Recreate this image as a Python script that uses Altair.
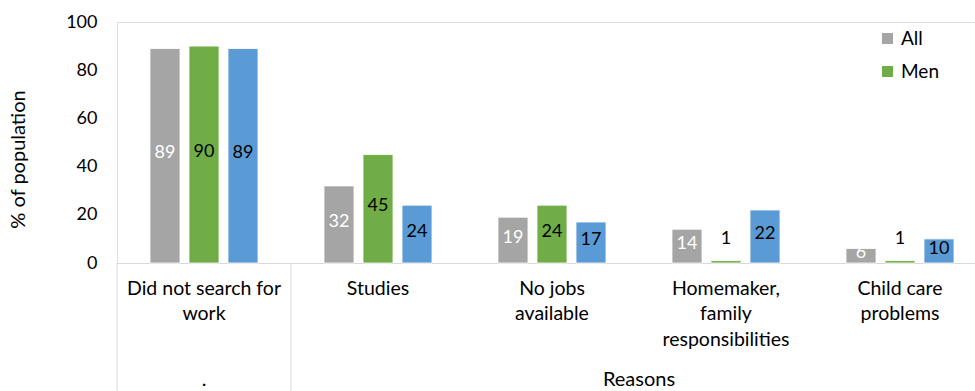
import altair as alt
import pandas as pd

categories = ["Did not search for|work", "Studies", "No jobs|available",
              "Homemaker,|family|responsibilities", "Child care|problems"]
series = ["All", "Men", "Women"]
all_vals = [89, 32, 19, 14, 6]
men_vals = [90, 45, 24, 1, 1]
women_vals = [89, 24, 17, 22, 10]
colors = ["#A5A5A5", "#70AD47", "#5B9BD5"]
y_ticks = [0, 20, 40, 60, 80, 100]

rows = []
for s, vals in zip(series, [all_vals, men_vals, women_vals]):
    for c, v in zip(categories, vals):
        rows.append({"cat": c, "series": s, "v": v})
df = pd.DataFrame(rows)

FONT = "Lato"
W, H = 858, 241

xscale = alt.Scale(domain=categories, range=[0, 870], paddingInner=0, paddingOuter=0)
xoff = alt.XOffset("series:N", sort=series,
                   scale=alt.Scale(domain=series, paddingInner=0.2308, paddingOuter=0.846))

x_axis = alt.Axis(title=None, labelExpr="split(datum.label, '|')", labelAngle=0,
                  labelFontSize=19.5, labelLineHeight=25.5, labelPadding=16, ticks=False,
                  domainColor="#D9D9D9", domainWidth=1, labelColor="black", labelFont=FONT,
                  labelLimit=0, labelBaseline="top")
y_axis = alt.Axis(values=y_ticks, grid=False, domain=False, ticks=False, labelPadding=20,
                  labelFontSize=18, labelFont=FONT, labelColor="black",
                  title="% of population", titleFontSize=20, titleFont=FONT,
                  titleFontWeight="normal", titleColor="black", titleX=-99, titleY=137,
                  titleAngle=270, titleAlign="center", titleBaseline="middle")

base = alt.Chart(df)

bars = base.mark_bar(stroke="white", strokeWidth=0.8).encode(
    x=alt.X("cat:N", sort=categories, scale=xscale, axis=x_axis),
    xOffset=xoff,
    y=alt.Y("v:Q", scale=alt.Scale(domain=[0, 100]), axis=y_axis),
    color=alt.Color("series:N", sort=series,
                    scale=alt.Scale(domain=series, range=colors),
                    legend=alt.Legend(values=["All", "Men"], title=None, orient="none",
                                      legendX=761, legendY=7, symbolType="square",
                                      symbolSize=121, symbolStrokeWidth=0,
                                      labelFontSize=19, labelFont=FONT, labelColor="black",
                                      rowPadding=13, padding=0, labelOffset=4)),
)

labels = base.transform_calculate(
    ly="datum.v < 3 ? 10 : datum.v / 2 + 1"
).mark_text(fontSize=18, font=FONT, baseline="middle").encode(
    x=alt.X("cat:N", sort=categories, scale=xscale),
    xOffset=xoff,
    y=alt.Y("ly:Q"),
    text=alt.Text("v:Q"),
    color=alt.condition(alt.datum.series == "All", alt.value("white"), alt.value("black")),
)

sep_df = pd.DataFrame({"cat": categories[:2]})
seps = alt.Chart(sep_df).mark_rule(color="#D9D9D9", strokeWidth=1).encode(
    x=alt.X("cat:N", sort=categories, scale=xscale, bandPosition=0),
    y=alt.value(H),
    y2=alt.value(H + 130),
)

dot = alt.Chart(pd.DataFrame({"cat": [categories[0]], "t": ["."]})).mark_text(
    fontSize=20, font=FONT, baseline="middle", color="black").encode(
    x=alt.X("cat:N", sort=categories, scale=xscale, bandPosition=0.5),
    y=alt.value(H + 117),
    text="t:N",
)
reasons = alt.Chart(pd.DataFrame({"cat": [categories[3]], "t": ["Reasons"]})).mark_text(
    fontSize=20, font=FONT, baseline="middle", color="black").encode(
    x=alt.X("cat:N", sort=categories, scale=xscale, bandPosition=0),
    y=alt.value(H + 117),
    text="t:N",
)

chart = alt.layer(bars, labels, seps, dot, reasons).properties(
    width=W, height=H,
    autosize=alt.AutoSizeParams(type="none"),
    padding={"left": 117, "top": 22, "right": 0, "bottom": 128},
).configure_view(stroke=None).configure(font=FONT)

chart.save("out.html", embed_options={"renderer": "svg", "actions": False})
